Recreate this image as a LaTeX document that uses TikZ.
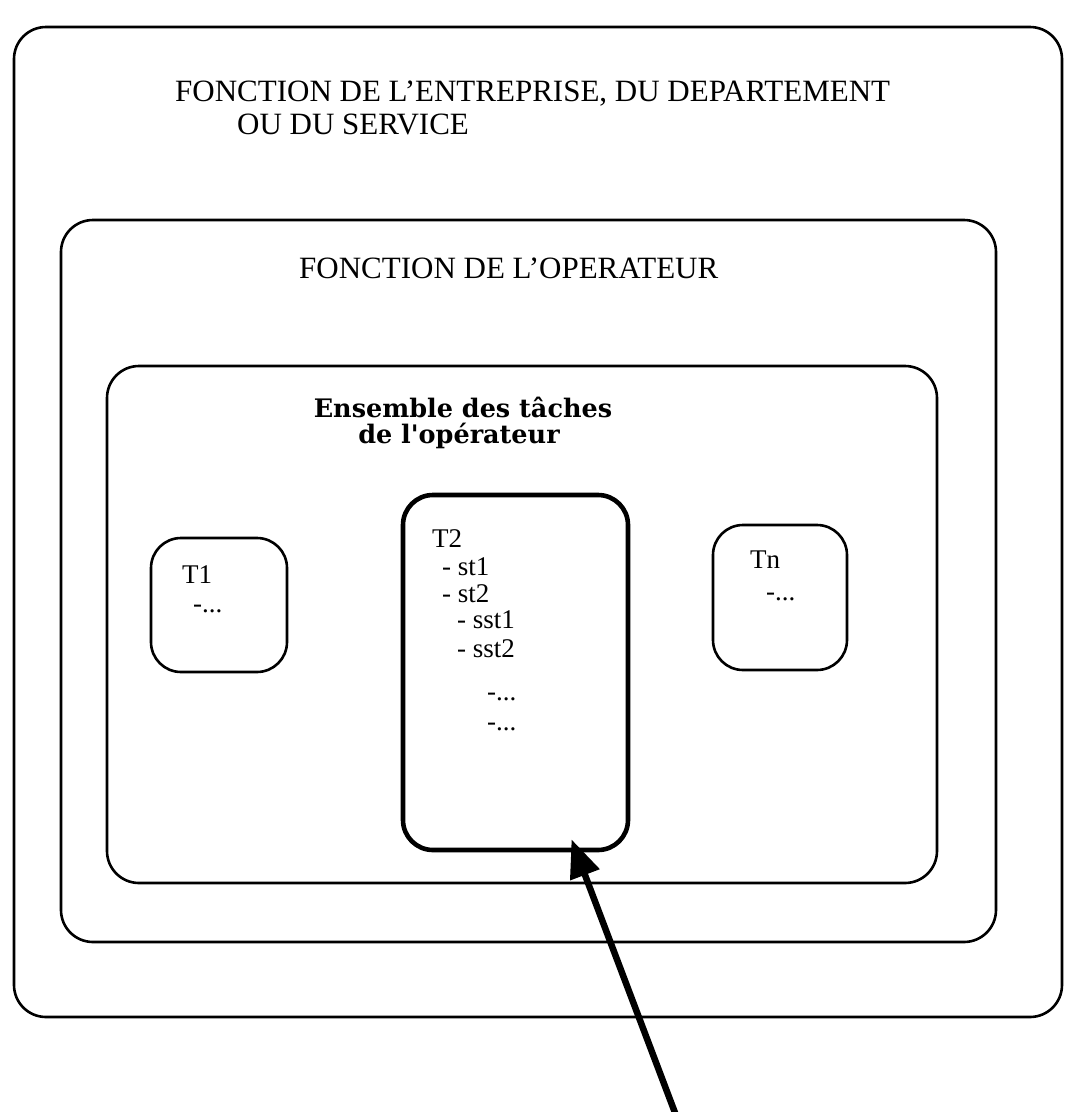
\documentclass[tikz,border=0pt]{standalone}
\usepackage{fontspec}
\setmainfont{Liberation Serif}
\newfontfamily\ensfont{DejaVu Serif}
\usetikzlibrary{arrows.meta}
\begin{document}
\begin{tikzpicture}[x=1pt,y=-1pt,
    zone/.style={draw,rectangle,rounded corners=32pt,line width=2.6pt,inner sep=0pt},
    tache/.style={draw,rectangle,rounded corners=30pt,line width=2.6pt,inner sep=0pt},
    lbl/.style={anchor=base west,inner sep=0pt,font=\fontsize{31}{31}\selectfont},
    ligne/.style={anchor=base west,inner sep=0pt,font=\fontsize{27}{27}\selectfont}]
      \useasboundingbox (0,0) rectangle (1065,1112);
      \node[zone,minimum width=1048pt,minimum height=990pt] (entreprise) at (538,522) {};
      \node[zone,minimum width=935pt,minimum height=722pt] (operateur) at (528.5,581) {};
      \node[zone,minimum width=830pt,minimum height=517pt] (ensemble) at (522,624.5) {};
      \node[tache,minimum width=136pt,minimum height=134pt] (T1) at (219,605) {};
      \node[tache,line width=4.6pt,minimum width=225pt,minimum height=355pt] (T2) at (515.5,672.5) {};
      \node[tache,minimum width=134pt,minimum height=145pt] (Tn) at (780,597.5) {};
      \draw
        (175,101) node[lbl] (titre1) {FONCTION DE L'ENTREPRISE, DU DEPARTEMENT}
        (237,134) node[lbl] (titre2) {OU DU SERVICE}
        (299,278) node[lbl] (titre3) {FONCTION DE L'OPERATEUR};
      \draw
        (463,417) node[anchor=base,inner sep=0pt,font=\ensfont\bfseries\fontsize{25.5}{25.5}\selectfont] (ens1) {Ensemble des tâches}
        (459,443) node[anchor=base,inner sep=0pt,font=\ensfont\bfseries\fontsize{25.5}{25.5}\selectfont] (ens2) {de l'opérateur};
      \draw
        (182,583) node[ligne] (t1a) {T1}
        (193,612) node[ligne] (t1b) {-...}
        (432,547) node[ligne] (t2a) {T2}
        (442,575) node[ligne] (t2b) {- st1}
        (442,602) node[ligne] (t2c) {- st2}
        (457,628) node[ligne] (t2d) {- sst1}
        (457,657) node[ligne] (t2e) {- sst2}
        (487,700) node[ligne] (t2f) {-...}
        (487,730) node[ligne] (t2g) {-...}
        (750,568) node[ligne] (tna) {Tn}
        (766,600) node[ligne] (tnb) {-...};
      \coordinate (source) at (677,1118);
      \begin{scope}[-{Triangle[length=38pt,width=30pt]}]
        \draw[line width=6.5pt] (source) to ([xshift=56pt,yshift=13pt]T2.south);
      \end{scope}
    \end{tikzpicture}
\end{document}
